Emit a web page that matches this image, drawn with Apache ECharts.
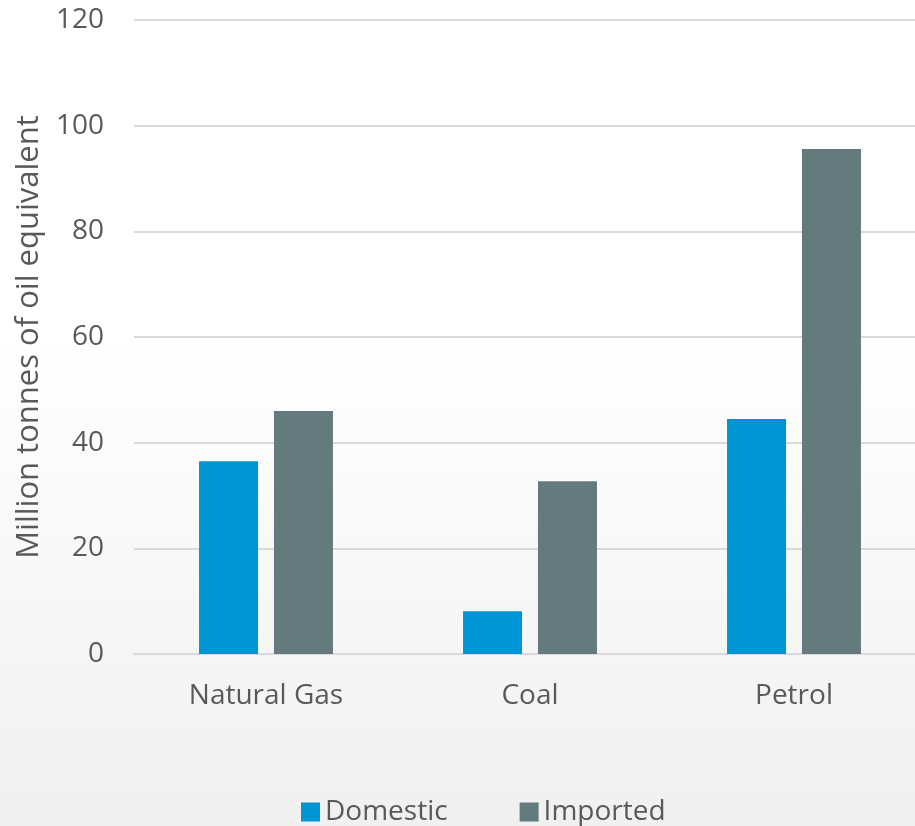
<!DOCTYPE html>
<html><head><meta charset="utf-8">
<script src="https://cdn.jsdelivr.net/npm/echarts@6/dist/echarts.min.js"></script>
<style>html,body{margin:0;padding:0;overflow:hidden;width:915px;height:826px;}#c{width:926px;height:826px;}</style>
</head><body><div id="c"></div>
<script>
var categories = ['Natural Gas', 'Coal', 'Petrol'];
var domestic = [36.5, 8.1, 44.5];
var imported = [46.0, 32.7, 95.6];
var yTicks = {min: 0, max: 120, interval: 20};

var chart = echarts.init(document.getElementById('c'));
var txt = '#595959';
var font = 'Open Sans';
chart.setOption({
  backgroundColor: new echarts.graphic.LinearGradient(0, 0, 0, 1, [
    {offset: 0, color: '#ffffff'}, {offset: 0.42, color: '#ffffff'}, {offset: 1, color: '#f0f0f1'}
  ]),
  animation: false,
  grid: {left: 134, top: 20, right: 0, bottom: 172, containLabel: false},
  legend: {
    top: 793, left: 296, itemWidth: 19, itemHeight: 19, itemGap: 72,
    icon: 'rect',
    textStyle: {color: txt, fontSize: 28, fontFamily: font},
    data: ['Domestic', 'Imported']
  },
  xAxis: {
    type: 'category', data: categories,
    axisLine: {lineStyle: {color: '#d9d9d9', width: 2}},
    axisTick: {show: false},
    axisLabel: {color: txt, fontSize: 28, fontFamily: font, margin: 28}
  },
  yAxis: {
    type: 'value', min: yTicks.min, max: yTicks.max, interval: yTicks.interval,
    name: 'Million tonnes of oil equivalent', nameLocation: 'middle', nameGap: 82,
    nameTextStyle: {color: txt, fontSize: 31, fontFamily: font},
    axisLine: {show: false}, axisTick: {show: false},
    splitLine: {lineStyle: {color: '#d9d9d9', width: 2}},
    axisLabel: {color: txt, fontSize: 28, fontFamily: font, margin: 30}
  },
  series: [
    {name: 'Domestic', type: 'bar', data: domestic, barWidth: 59, barGap: '27%', itemStyle: {color: '#0096d6'}},
    {name: 'Imported', type: 'bar', data: imported, barWidth: 59, itemStyle: {color: '#647a7f'}}
  ]
});
</script></body></html>
